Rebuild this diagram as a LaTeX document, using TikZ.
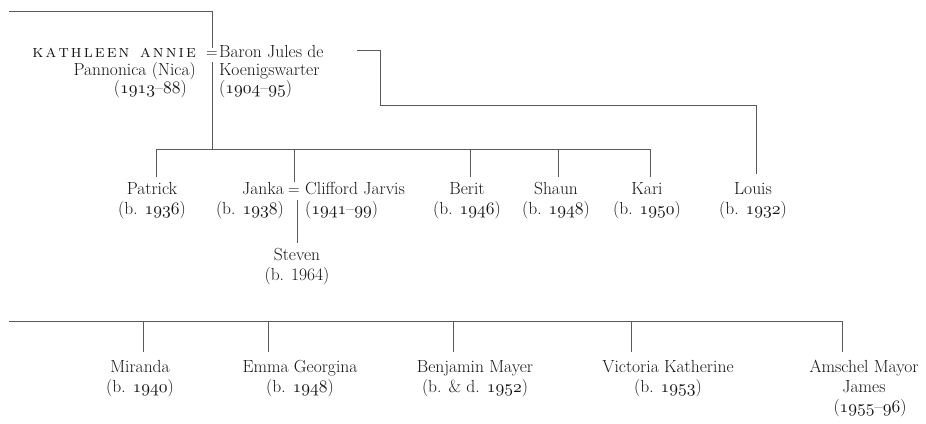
\documentclass[tikz,border=0pt]{standalone}
\usepackage{fontspec}
\definecolor{ink}{HTML}{141414}
\definecolor{rule}{HTML}{5A5A5A}
% math italic at any size, for its old-style figures
\DeclareFontShape{OML}{cmm}{m}{it}{<->cmmi10}{}
\newcommand\osn[1]{\(\mathnormal{#1}\)}
% letter-spaced small capitals
\newcommand\ls{\kern2.1pt}
\newcommand\capsname{\textsc{k\ls a\ls t\ls h\ls l\ls e\ls e\ls n\ls\ \ls a\ls n\ls n\ls i\ls e}}
\newcommand\heavy{\addfontfeature{FakeBold=0.8}}
\tikzset{
  person/.style={align=center, anchor=north, inner sep=0pt, text=ink,
    font=\fontsize{17.5}{20}\selectfont\heavy},
  elder/.style={inner sep=0pt, text=ink, font=\fontsize{17.5}{18}\selectfont\heavy},
  marry/.style={inner sep=0pt, anchor=base, text=ink, font=\fontsize{16}{20}\selectfont},
  kin/.style={draw=rule, line width=1pt},
}
% strut fixing every node's top 12pt above its first baseline
\newcommand\tp{\rule{0pt}{12pt}}
\begin{document}
\begin{tikzpicture}[x=1pt, y=-1pt]
\useasboundingbox (0,0) rectangle (926,423);

% ---------- parents ----------
\node[elder, anchor=north east, align=right] (nica) at (196,45)
  {\tp\capsname\\Pannonica (Nica)\\(\osn{1913}--\osn{88})\hspace*{9pt}};
\node[marry] (eqA) at (212,57) {=};
\node[elder, anchor=north west, align=left] (jules) at (219,45)
  {\tp Baron Jules de\\Koenigswarter\\(\osn{1904}--\osn{95})};

% ---------- their children ----------
\node[person] (patrick) at (152,182) {\tp Patrick\\(b. \osn{1936})};
\node[person, anchor=north east, align=right] (janka) at (284,182) {\tp Janka\\(b. \osn{1938})};
\node[marry] (eqB) at (294,194) {=};
\node[person, anchor=north west, align=left] (clifford) at (305,182) {\tp Clifford Jarvis\\(\osn{1941}--\osn{99})};
\node[person] (steven) at (297,248) {\tp Steven\\(b. 1964)};
\node[person] (berit) at (467,182) {\tp Berit\\(b. \osn{1946})};
\node[person] (shaun) at (556,182) {\tp Shaun\\(b. \osn{1948})};
\node[person] (kari) at (647,182) {\tp Kari\\(b. \osn{1950})};
\node[person] (louis) at (753,182) {\tp Louis\\(b. \osn{1932})};

% ---------- lower family line ----------
\node[person] (miranda) at (140,360) {\tp Miranda\\(b. \osn{1940})};
\node[person] (emma) at (300,360) {\tp Emma Georgina\\(b. \osn{1948})};
\node[person] (benjamin) at (475,360) {\tp Benjamin Mayer\\(b. \& d. \osn{1952})};
\node[person] (victoria) at (668,360) {\tp Victoria Katherine\\(b. \osn{1953})};
\node[person] (amschel) at (864,360) {\tp Amschel Mayor\\James\\\hspace*{12pt}(\osn{1955}--\osn{96})};

% ---------- connector points ----------
\coordinate (topL) at (9,11);
\coordinate (topR) at (212,11);
\coordinate (stem) at (212,149);
\coordinate (barL) at (156,149);
\coordinate (barR) at (650,149);
\coordinate (dPat) at (156,149);
\coordinate (dJan) at (294,149);
\coordinate (dBer) at (470,149);
\coordinate (dSha) at (558,149);
\coordinate (dKar) at (650,149);
\coordinate (lA) at (357,50);
\coordinate (lB) at (380,50);
\coordinate (lC) at (380,105);
\coordinate (lD) at (756,105);
\coordinate (lowL) at (9,321);
\coordinate (lowR) at (842,321);
\coordinate (dMir) at (143,321);
\coordinate (dEmm) at (268,321);
\coordinate (dBen) at (453,321);
\coordinate (dVic) at (631,321);
\coordinate (dAms) at (842,321);

% ---------- connectors ----------
\draw[kin] (topL) -- (topR) -- ([yshift=3pt]eqA.north);
\draw[kin] ([yshift=-5pt]eqA.south) -- (stem);
\draw[kin] (barL) -- (barR);
\draw[kin] (dPat) -- ([yshift=5pt]dPat |- patrick.north);
\draw[kin] (dJan) -- ([yshift=6pt]eqB.north);
\draw[kin] ([xshift=3pt,yshift=-6pt]eqB.south) -- ([xshift=3pt,yshift=5pt]eqB.south |- steven.north);
\draw[kin] (dBer) -- ([yshift=5pt]dBer |- berit.north);
\draw[kin] (dSha) -- ([yshift=5pt]dSha |- shaun.north);
\draw[kin] (dKar) -- ([yshift=5pt]dKar |- kari.north);
\draw[kin] (lA) -- (lB) -- (lC) -- (lD) -- ([yshift=8pt]lD |- louis.north);

\draw[kin] (lowL) -- (lowR);
\draw[kin] (dMir) -- ([yshift=8pt]dMir |- miranda.north);
\draw[kin] (dEmm) -- ([yshift=8pt]dEmm |- emma.north);
\draw[kin] (dBen) -- ([yshift=8pt]dBen |- benjamin.north);
\draw[kin] (dVic) -- ([yshift=8pt]dVic |- victoria.north);
\draw[kin] (dAms) -- ([yshift=8pt]dAms |- amschel.north);
\end{tikzpicture}
\end{document}
